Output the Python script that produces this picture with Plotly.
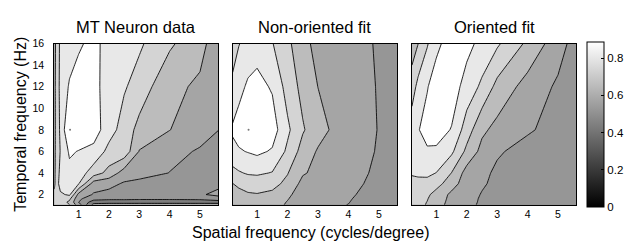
import plotly.graph_objects as go

# spatial frequency (cycles/degree) and temporal frequency (Hz) sample grids
sf = [0.2, 0.4, 0.7, 1.0, 1.5, 2.0, 2.5, 3.0, 4.0, 5.0, 5.6]
tf = [1.05, 1.3, 1.6, 2, 3, 4, 6, 8, 12, 16]

# normalised response, rows = temporal frequency (bottom to top)
mt_data = [
    [0.64, 0.65, 0.60, 0.45, 0.16, 0.15, 0.15, 0.15, 0.15, 0.15, 0.15],
    [0.64, 0.65, 0.58, 0.40, 0.25, 0.24, 0.24, 0.24, 0.24, 0.24, 0.24],
    [0.64, 0.66, 0.62, 0.42, 0.33, 0.32, 0.32, 0.315, 0.315, 0.32, 0.36],
    [0.62, 0.68, 0.72, 0.47, 0.39, 0.37, 0.36, 0.35, 0.35, 0.39, 0.42],
    [0.58, 0.75, 0.76, 0.705, 0.45, 0.43, 0.388, 0.37, 0.35, 0.36, 0.38],
    [0.58, 0.73, 0.77, 0.75, 0.65, 0.567, 0.455, 0.44, 0.398, 0.37, 0.36],
    [0.58, 0.705, 0.815, 0.795, 0.77, 0.67, 0.665, 0.495, 0.43, 0.39, 0.37],
    [0.575, 0.72, 0.905, 0.90, 0.85, 0.741, 0.659, 0.567, 0.502, 0.44, 0.401],
    [0.575, 0.73, 0.811, 0.86, 0.85, 0.725, 0.71, 0.66, 0.517, 0.489, 0.47],
    [0.569, 0.723, 0.75, 0.78, 0.84, 0.745, 0.73, 0.715, 0.618, 0.521, 0.463],
]

nonoriented_fit = [
    [0.51, 0.525, 0.54, 0.545, 0.535, 0.49, 0.435, 0.415, 0.399, 0.355, 0.345],
    [0.52, 0.535, 0.55, 0.555, 0.545, 0.495, 0.44, 0.42, 0.402, 0.36, 0.35],
    [0.53, 0.55, 0.565, 0.57, 0.56, 0.505, 0.445, 0.425, 0.405, 0.365, 0.355],
    [0.55, 0.57, 0.59, 0.595, 0.58, 0.52, 0.45, 0.43, 0.41, 0.37, 0.36],
    [0.598, 0.62, 0.64, 0.645, 0.63, 0.575, 0.47, 0.45, 0.42, 0.38, 0.37],
    [0.67, 0.69, 0.71, 0.715, 0.695, 0.605, 0.51, 0.475, 0.43, 0.385, 0.375],
    [0.77, 0.79, 0.805, 0.82, 0.79, 0.68, 0.56, 0.49, 0.43, 0.395, 0.38],
    [0.815, 0.84, 0.86, 0.86, 0.845, 0.72, 0.61, 0.54, 0.43, 0.398, 0.385],
    [0.72, 0.77, 0.815, 0.83, 0.79, 0.66, 0.57, 0.499, 0.44, 0.395, 0.38],
    [0.66, 0.695, 0.74, 0.76, 0.705, 0.62, 0.54, 0.46, 0.44, 0.39, 0.38],
]

oriented_fit = [
    [0.62, 0.62, 0.595, 0.54, 0.465, 0.425, 0.385, 0.36, 0.34, 0.33, 0.325],
    [0.625, 0.625, 0.598, 0.545, 0.47, 0.428, 0.388, 0.365, 0.345, 0.335, 0.33],
    [0.63, 0.63, 0.605, 0.55, 0.475, 0.43, 0.39, 0.367, 0.347, 0.337, 0.332],
    [0.64, 0.64, 0.62, 0.56, 0.48, 0.435, 0.395, 0.37, 0.35, 0.34, 0.335],
    [0.67, 0.675, 0.67, 0.64, 0.54, 0.45, 0.41, 0.38, 0.355, 0.345, 0.34],
    [0.71, 0.715, 0.72, 0.698, 0.598, 0.46, 0.42, 0.385, 0.36, 0.35, 0.345],
    [0.745, 0.77, 0.79, 0.785, 0.72, 0.575, 0.47, 0.41, 0.37, 0.36, 0.35],
    [0.76, 0.795, 0.83, 0.84, 0.795, 0.65, 0.52, 0.47, 0.41, 0.37, 0.35],
    [0.65, 0.73, 0.795, 0.84, 0.85, 0.76, 0.68, 0.57, 0.46, 0.385, 0.35],
    [0.55, 0.598, 0.69, 0.78, 0.84, 0.83, 0.77, 0.715, 0.58, 0.44, 0.36],
]

panel_titles = ["MT Neuron data", "Non-oriented fit", "Oriented fit"]
panels = [mt_data, nonoriented_fit, oriented_fit]

# peak marker (small dot) in the first two panels
peak_sf = [0.72]
peak_tf = [8.0]

x_ticks = [1, 2, 3, 4, 5]
y_ticks = [2, 4, 6, 8, 10, 12, 14, 16]
cbar_ticks = [0, 0.2, 0.4, 0.6, 0.8]
cbar_max = 0.89

# grey level of each filled band (below 0.2, 0.2-0.3, ..., above 0.8)
band_grays = [100, 125, 150, 165, 188, 212, 232, 255]
n = len(band_grays) - 1
band_scale = [[i / n, f"rgb({g},{g},{g})"] for i, g in enumerate(band_grays)]

W, H = 628, 250
x_doms = [(55, 221), (235.7, 402.3), (417.3, 583.7)]
y_top, y_bot = 38.5, 203.7
ydom = [(H - y_bot) / H, (H - y_top) / H]
FONT = "Liberation Sans, Arial, sans-serif"

fig = go.Figure()
for i, z in enumerate(panels):
    ax = "" if i == 0 else str(i + 1)
    fig.add_trace(go.Contour(
        x=sf, y=tf, z=z, xaxis="x" + ax, yaxis="y" + ax,
        autocontour=False,
        contours=dict(start=0.2, end=0.8, size=0.1, coloring="fill", showlines=True),
        line=dict(color="black", width=0.85, smoothing=0),
        colorscale=band_scale, showscale=False, hoverinfo="skip",
    ))
    if i < 2:
        fig.add_trace(go.Scatter(
            x=peak_sf, y=peak_tf, xaxis="x" + ax, yaxis="y" + ax, mode="markers",
            marker=dict(size=2, color="#777777"), showlegend=False, hoverinfo="skip"))
    fig.layout["xaxis" + ax] = dict(
        domain=[x_doms[i][0] / W, x_doms[i][1] / W], range=[0.2, 5.6],
        tickvals=x_ticks, ticks="", showgrid=False, zeroline=False,
        showline=True, mirror=True, linecolor="black", linewidth=1,
        tickfont=dict(size=10.5, family=FONT, color="black"), anchor="y" + ax,
    )
    fig.layout["yaxis" + ax] = dict(
        domain=ydom, range=[1.05, 16], tickvals=y_ticks, ticks="",
        showticklabels=(i == 0), showgrid=False, zeroline=False,
        showline=True, mirror=True, linecolor="black", linewidth=1,
        ticklabelstandoff=7,
        tickfont=dict(size=10.5, family=FONT, color="black"), anchor="x" + ax,
    )
    fig.add_annotation(
        x=(x_doms[i][0] + x_doms[i][1]) / 2 / W, y=(H - 21.7) / H,
        xref="paper", yref="paper", text=panel_titles[i], showarrow=False,
        font=dict(size=16.5, family=FONT, color="black"), xanchor="center", yanchor="middle")

# continuous colour bar
fig.add_trace(go.Scatter(
    x=[-10, -10], y=[-10, -10], xaxis="x3", yaxis="y3", mode="markers",
    marker=dict(color=[0, cbar_max], cmin=0, cmax=cbar_max, size=1,
                colorscale=[[0, "black"], [1, "white"]], showscale=True,
                colorbar=dict(
                    x=594.5 / W, xanchor="left", xpad=0, ypad=0,
                    y=(H - (y_top + y_bot) / 2) / H, yanchor="middle",
                    thickness=17, thicknessmode="pixels",
                    len=y_bot - y_top, lenmode="pixels",
                    tickvals=cbar_ticks, ticktext=[str(t) for t in cbar_ticks],
                    ticks="inside", ticklen=3, tickcolor="black",
                    outlinecolor="black", outlinewidth=1,
                    tickfont=dict(size=11.5, family=FONT, color="black"))),
    showlegend=False, hoverinfo="skip"))

fig.add_annotation(x=314 / W, y=(H - 232) / H, xref="paper", yref="paper",
                   text="Spatial frequency (cycles/degree)", showarrow=False,
                   font=dict(size=16, family=FONT, color="black"),
                   xanchor="center", yanchor="middle")
fig.add_annotation(x=20 / W, y=(H - 121) / H, xref="paper", yref="paper",
                   text="Temporal frequency (Hz)", showarrow=False, textangle=-90,
                   font=dict(size=16, family=FONT, color="black"),
                   xanchor="center", yanchor="middle")

fig.update_layout(width=W, height=H, margin=dict(l=0, r=0, t=0, b=0),
                  paper_bgcolor="white", plot_bgcolor="white", showlegend=False)
fig.write_html("out.html", config={"displayModeBar": False},
               post_script="document.body.style.margin='0px';")
